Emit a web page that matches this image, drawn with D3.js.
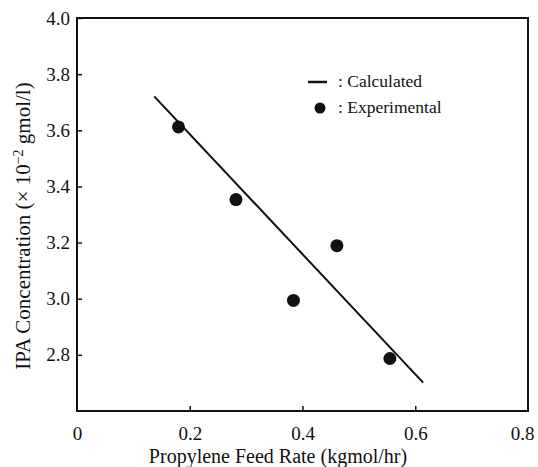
<!DOCTYPE html>
<html>
<head>
<meta charset="utf-8">
<script src="https://cdn.jsdelivr.net/npm/d3@7"></script>
<style>
  body { margin: 0; background: #fff; }
  svg text { font-family: "Liberation Serif", "Times New Roman", serif; fill: #111; }
</style>
</head>
<body>
<div id="chart"></div>
<script>
// data
const feedRate = [0.180, 0.282, 0.384, 0.461, 0.555];   // kgmol/hr
const ipaConc  = [3.612, 3.353, 2.994, 3.189, 2.787];   // x 10^-2 gmol/l
const calcX = [0.137, 0.614];
const calcY = [3.721, 2.701];
const xTicks = [0, 0.2, 0.4, 0.6, 0.8];
const yTicks = [2.8, 3.0, 3.2, 3.4, 3.6, 3.8, 4.0];

const W = 538, H = 467;
const plot = {left: 77, right: 528, top: 18, bottom: 411};

const svg = d3.select("#chart").append("svg")
    .attr("width", W)
    .attr("height", H);

const x = d3.scaleLinear().domain([0, 0.8]).range([plot.left, plot.right]);
const y = d3.scaleLinear().domain([2.6, 4.0]).range([plot.bottom, plot.top]);

// frame
svg.append("rect")
    .attr("x", plot.left).attr("y", plot.top)
    .attr("width", plot.right - plot.left).attr("height", plot.bottom - plot.top)
    .attr("fill", "none").attr("stroke", "#111").attr("stroke-width", 2);

// y axis, ticks pointing inward
const gy = svg.append("g")
    .attr("transform", "translate(" + plot.left + ",0)")
    .call(d3.axisRight(y).tickValues(yTicks).tickSize(5).tickFormat(d3.format(".1f")));
gy.select(".domain").remove();
gy.selectAll("line").attr("stroke", "#111").attr("stroke-width", 1.5);
gy.selectAll("text")
    .attr("x", -7)
    .attr("text-anchor", "end")
    .attr("font-size", 19)
    .attr("font-family", "Liberation Serif");

// x axis, ticks pointing inward
const gx = svg.append("g")
    .attr("transform", "translate(0," + plot.bottom + ")")
    .call(d3.axisTop(x).tickValues(xTicks).tickSize(5)
        .tickFormat(d => d === 0 ? "0" : d3.format(".1f")(d)));
gx.select(".domain").remove();
gx.selectAll("line").attr("stroke", "#111").attr("stroke-width", 1.5)
    .attr("display", (d, i) => (i === 0 || i === xTicks.length - 1) ? "none" : null);
gx.selectAll("text")
    .attr("y", 16)
    .attr("dy", "0.71em")
    .attr("font-size", 19)
    .attr("font-family", "Liberation Serif");
// last label pulled in so it stays inside the picture
gx.selectAll("text").filter(d => d === 0.8)
    .attr("text-anchor", "end")
    .attr("x", 6);

// axis titles
svg.append("text")
    .attr("x", 278)
    .attr("y", 463)
    .attr("text-anchor", "middle")
    .attr("font-size", 20)
    .text("Propylene Feed Rate (kgmol/hr)");

const yt = svg.append("text")
    .attr("transform", "translate(30," + 226 + ") rotate(-90)")
    .attr("text-anchor", "middle")
    .attr("font-size", 21);
yt.append("tspan").text("IPA Concentration (\u00d7 10");
yt.append("tspan").attr("dy", -7).attr("font-size", 14).text("\u22122");
yt.append("tspan").attr("dy", 7).text(" gmol/l)");

// calculated line
const line = d3.line().x(d => x(d[0])).y(d => y(d[1]));
svg.append("path")
    .datum(d3.zip(calcX, calcY))
    .attr("d", line)
    .attr("fill", "none")
    .attr("stroke", "#111")
    .attr("stroke-width", 2);

// experimental points
svg.selectAll("circle.pt")
    .data(d3.zip(feedRate, ipaConc))
    .join("circle")
    .attr("class", "pt")
    .attr("cx", d => x(d[0]))
    .attr("cy", d => y(d[1]))
    .attr("r", 6.5)
    .attr("fill", "#111");

// legend
svg.append("line")
    .attr("x1", 308).attr("x2", 327)
    .attr("y1", 82).attr("y2", 82)
    .attr("stroke", "#111").attr("stroke-width", 2.5);
svg.append("text")
    .attr("x", 338).attr("y", 87)
    .attr("font-size", 17.5)
    .text(": Calculated");
svg.append("circle")
    .attr("cx", 320).attr("cy", 108)
    .attr("r", 5.5)
    .attr("fill", "#111");
svg.append("text")
    .attr("x", 338).attr("y", 113)
    .attr("font-size", 17.5)
    .text(": Experimental");
</script>
</body>
</html>
